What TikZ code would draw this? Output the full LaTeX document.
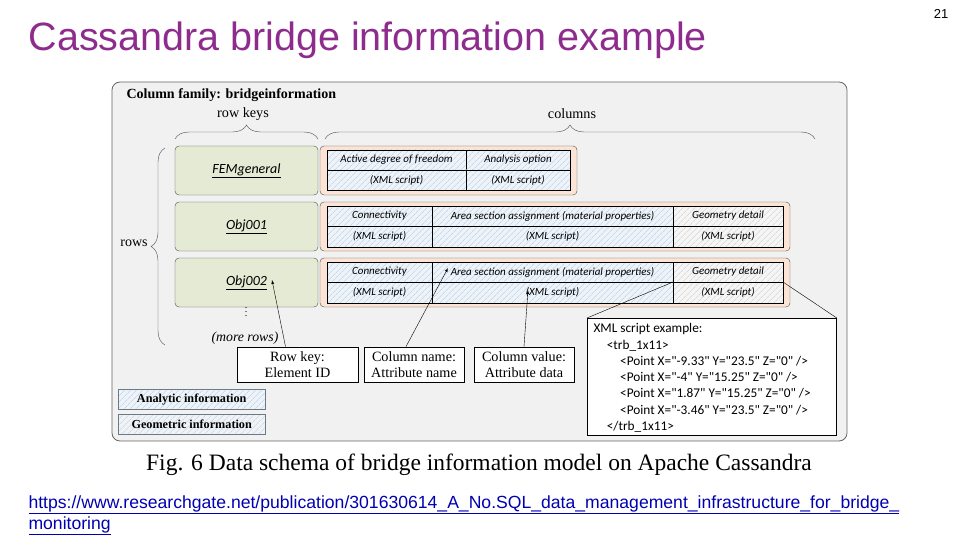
\documentclass[tikz,border=0pt]{standalone}
\usepackage{fontspec}
\setmainfont{Liberation Serif}
\newfontfamily\sansf{Liberation Sans}
\newfontfamily\calf{Carlito}
\usetikzlibrary{patterns.meta,decorations.pathreplacing}
\definecolor{titlepurple}{HTML}{8E2C8E}
\definecolor{keygreen}{HTML}{E4EAD3}
\definecolor{colorange}{HTML}{FBE3D6}
\definecolor{hatchblue}{HTML}{B4CBE0}
\definecolor{cellblue}{HTML}{EDF3F9}
\definecolor{framegrey}{HTML}{F1F1F1}
\tikzset{
  keybox/.style={draw=black!70,fill=keygreen,rounded corners=4pt,font=\calf\fontsize{14}{15}\selectfont\itshape},
  colbox/.style={draw=black!70,fill=colorange,rounded corners=4pt},
  acell/.style={fill=cellblue,postaction={pattern={Lines[angle=45,distance=4pt,line width=0.5pt]},pattern color=hatchblue},postaction={draw}},
  gcell/.style={fill=black!4,postaction={pattern={Lines[angle=45,distance=4pt,line width=0.5pt]},pattern color=black!20},postaction={draw}},
  celltxt/.style={font=\calf\fontsize{11}{12}\selectfont\itshape},
  lblbox/.style={draw,fill=white,line width=0.8pt,align=center,font=\fontsize{14.2}{16}\selectfont},
  legend/.style={fill=cellblue,font=\bfseries\fontsize{12.2}{13}\selectfont},
  brc/.style={decorate,decoration={brace,amplitude=14pt},draw=black!70}
}
\begin{document}
\begin{tikzpicture}[x=1pt,y=-1pt]
\useasboundingbox (0,0) rectangle (960,540);
% title and page number
\node[anchor=west,text=titlepurple,font=\sansf\fontsize{39.5}{42}\selectfont] (title) at (25,40) {Cassandra bridge information example};
\node[font=\sansf\fontsize{13}{14}\selectfont] (pnum) at (941,14) {21};
% frame
\draw[black!60,fill=framegrey,rounded corners=8pt,line width=0.8pt] (112,82) rectangle (847,441);
\node[anchor=west,font=\bfseries\fontsize{14}{15}\selectfont] (cf) at (123,95) {Column family: bridgeinformation};
\node[font=\fontsize{14.2}{15}\selectfont] (rk) at (243,114) {row keys};
\node[font=\fontsize{14.2}{15}\selectfont] (cols) at (572,114) {columns};
\draw[brc] (175,139) -- (318,139);
\draw[brc] (325,139) -- (815,139);
\draw[brc] (165,345) -- (165,148);
\node[font=\fontsize{14}{15}\selectfont] (rows) at (134,243) {rows};
% row keys
\foreach \y/\k/\t in {146/fem/\underline{FEMgeneral},202/o1/\underline{Obj001},258/o2/\underline{Obj002}}
  \draw[keybox] (175,\y) rectangle node (\k) {\t} (318,\y+49);
% column boxes
\draw[colbox] (320,146) rectangle (577,195);
\draw[colbox] (320,202) rectangle (790,251);
\draw[colbox] (320,258) rectangle (790,307);
\path[acell] (327,150) rectangle node[celltxt]{Active degree of freedom} (466,170);
\path[acell] (466,150) rectangle node[celltxt]{Analysis option} (570,170);
\path[acell] (327,170) rectangle node[celltxt]{(XML script)} (466,190);
\path[acell] (466,170) rectangle node[celltxt]{(XML script)} (570,190);
\foreach \y/\n in {206/a,262/b}{
  \path[acell] (327,\y) rectangle node[celltxt] (con\n) {Connectivity} (432,\y+20);
  \path[acell] (432,\y) rectangle node[celltxt] (area\n) {Area section assignment (material properties)} (673,\y+20);
  \path[gcell] (673,\y) rectangle node[celltxt] (geo\n) {Geometry detail} (783,\y+20);
  \path[acell] (327,\y+20) rectangle node[celltxt] {(XML script)} (432,\y+41);
  \path[acell] (432,\y+20) rectangle node[celltxt] (val\n) {(XML script)} (673,\y+41);
  \path[gcell] (673,\y+20) rectangle node[celltxt] {(XML script)} (783,\y+41);
}
\coordinate (gl) at (673,282);
\coordinate (gr) at (783,282);
\coordinate (areatip) at (448,268);
\coordinate (valtip) at (528,290);
\coordinate (keytip) at (272,280);
\node[inner sep=0pt] (dots) at (246,309) {$\vdots$};
\node[font=\itshape\fontsize{13.8}{14}\selectfont,inner sep=1pt] (more) at (245,338) {(more rows)};
% labels
\node[lblbox,minimum width=121pt,minimum height=35pt] (lkey) at (297.5,364.5) {Row key:\\Element ID};
\node[lblbox,minimum width=100pt,minimum height=35pt,inner sep=1pt] (lname) at (414,364.5) {Column name:\\Attribute name};
\node[lblbox,minimum width=100pt,minimum height=35pt,inner sep=1pt] (lval) at (524,364.5) {Column value:\\Attribute data};
\draw[-latex] (lkey.north) ++(-12,0) coordinate (k0) (k0) -- (keytip);
\draw[-latex] (lname.north) ++(-8,0) coordinate (n0) (n0) -- (areatip);
\draw[-latex] (lval.north) -- (valtip);
% xml
\node[draw,fill=white,line width=0.8pt,anchor=north west,minimum width=249pt,minimum height=117pt,inner sep=0pt] (xml) at (587,318) {};
\node[anchor=north west,align=left,font=\calf\fontsize{13.3}{16.3}\selectfont] (xmltxt) at (590,320) {XML script example:\\
\quad<trb\_1x11>\\
\qquad<Point X="-9.33" Y="23.5" Z="0" />\\
\qquad<Point X="-4" Y="15.25" Z="0" />\\
\qquad<Point X="1.87" Y="15.25" Z="0" />\\
\qquad<Point X="-3.46" Y="23.5" Z="0" />\\
\quad</trb\_1x11>};
\draw (xml.north west) -- (gl);
\draw (xml.north east) -- (gr);
% legend
\node[legend,anchor=north west,minimum width=147pt,minimum height=20pt,postaction={pattern={Lines[angle=45,distance=4pt,line width=0.5pt]},pattern color=hatchblue},postaction={draw=hatchblue!60!black,line width=0.8pt}] (ana) at (118,389) {Analytic information};
\node[legend,anchor=north west,minimum width=147pt,minimum height=20pt,postaction={pattern={Lines[angle=45,distance=4pt,line width=0.5pt]},pattern color=black!20},postaction={draw=hatchblue!60!black,line width=0.8pt}] (geom) at (118,414) {Geometric information};
% caption and link
\node[font=\fontsize{23.5}{25}\selectfont] (cap) at (479,465) {Fig. 6 Data schema of bridge information model on Apache Cassandra};
\node[anchor=north west,align=left,text=blue!70!black,font=\sansf\fontsize{17.6}{21}\selectfont] (url) at (25,492) {\underline{https://www.researchgate.net/publication/301630614\_A\_No.SQL\_data\_management\_infrastructure\_for\_bridge\_}\\\underline{monitoring}};
\end{tikzpicture}
\end{document}
